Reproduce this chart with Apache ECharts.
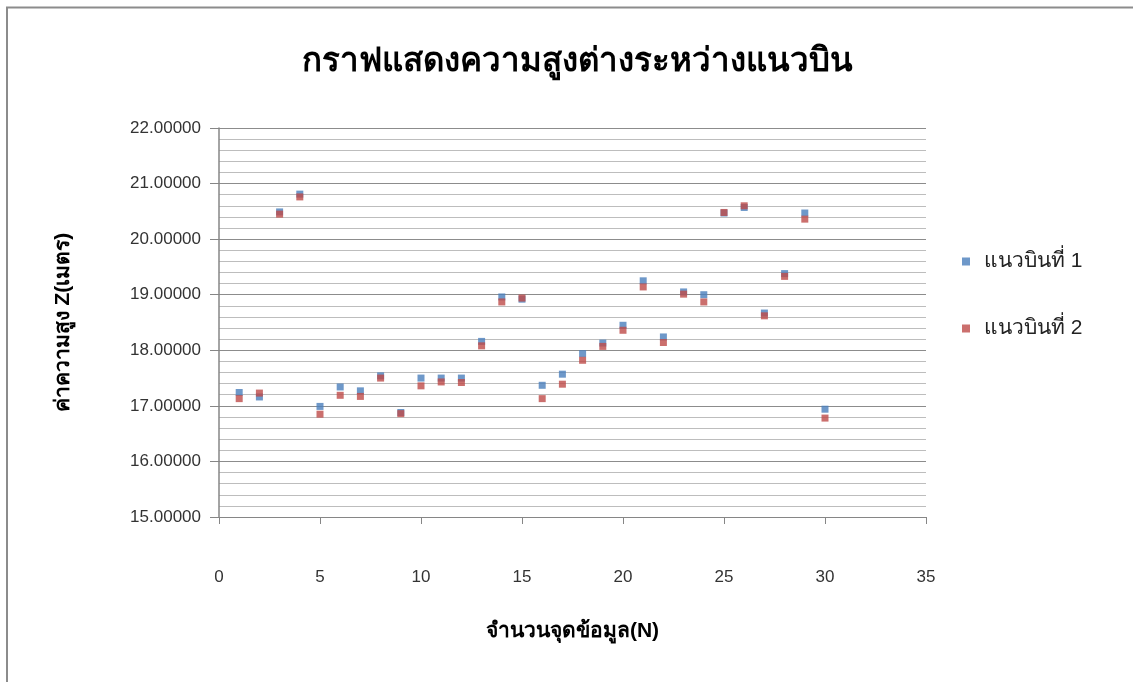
<!DOCTYPE html>
<html>
<head>
<meta charset="utf-8">
<script src="https://cdn.jsdelivr.net/npm/echarts@6/dist/echarts.min.js"></script>
<style>
  html, body { margin: 0; padding: 0; background: #fff; }
  #chart { width: 1133px; height: 682px; }
</style>
</head>
<body>
<div id="chart"></div>
<script>
// Point index along each flight line
const pointIndex = [1, 2, 3, 4, 5, 6, 7, 8, 9, 10, 11, 12, 13, 14, 15,
                    16, 17, 18, 19, 20, 21, 22, 23, 24, 25, 26, 27, 28, 29, 30];
// Height Z (metres) for flight line 1
const line1Z = [17.24, 17.16, 20.49, 20.81, 16.99, 17.34, 17.27, 17.54, 16.88, 17.50,
                17.50, 17.50, 18.16, 18.96, 18.92, 17.37, 17.57, 17.94, 18.13, 18.45,
                19.25, 18.24, 19.05, 19.00, 20.47, 20.57, 18.67, 19.38, 20.47, 16.94];
// Height Z (metres) for flight line 2
const line2Z = [17.13, 17.23, 20.45, 20.76, 16.85, 17.19, 17.17, 17.50, 16.86, 17.36,
                17.43, 17.42, 18.08, 18.87, 18.94, 17.13, 17.39, 17.82, 18.07, 18.36,
                19.14, 18.14, 19.01, 18.87, 20.48, 20.60, 18.62, 19.33, 20.36, 16.78];
const seriesNames = ['แนวบินที่ 1', 'แนวบินที่ 2'];
const titleText = 'กราฟแสดงความสูงต่างระหว่างแนวบิน';
const xAxisName = 'จำนวนจุดข้อมูล(N)';
const yAxisName = 'ค่าความสูง Z(เมตร)';

const pairs = (ys) => pointIndex.map((x, i) => [x, ys[i]]);
const font = '"Liberation Sans", "Noto Sans", sans-serif';

const chart = echarts.init(document.getElementById('chart'), null, { renderer: 'canvas' });
chart.setOption({
  animation: false,
  backgroundColor: '#fff',
  title: {
    text: titleText,
    left: 572, top: 40, textAlign: 'center',
    textStyle: { fontFamily: font, fontSize: 33, fontWeight: 'bold', color: '#000' }
  },
  graphic: [{
    // chart-area frame, running off the right and bottom of the page
    type: 'rect', silent: true, z: -1,
    shape: { x: 7, y: 7.5, width: 1140, height: 700 },
    style: { fill: 'none', stroke: '#8c8c8c', lineWidth: 2 }
  }],
  legend: {
    orient: 'vertical', left: 957, top: 246, itemGap: 46,
    itemWidth: 8, itemHeight: 8, icon: 'rect',
    textStyle: { fontFamily: font, fontSize: 21, color: '#222', padding: [0, 0, 0, 9] },
    data: seriesNames
  },
  grid: { left: 219, right: 207, top: 128, bottom: 165 },
  xAxis: {
    type: 'value', min: 0, max: 35, interval: 5,
    name: xAxisName, nameLocation: 'middle', nameGap: 104,
    nameTextStyle: { fontFamily: font, fontSize: 21, fontWeight: 'bold', color: '#000' },
    axisLine: { lineStyle: { color: '#868686', width: 1 } },
    axisTick: { show: true, length: 7, inside: false, lineStyle: { color: '#868686' } },
    axisLabel: { margin: 52, fontFamily: font, fontSize: 17, color: '#333' },
    splitLine: { show: false }
  },
  yAxis: {
    type: 'value', min: 15, max: 22, interval: 1,
    name: yAxisName, nameLocation: 'middle', nameGap: 145, nameRotate: 90,
    nameTextStyle: { fontFamily: font, fontSize: 21, fontWeight: 'bold', color: '#000' },
    axisLine: { show: true, lineStyle: { color: '#868686', width: 1.5 } },
    axisTick: { show: true, length: 9, lineStyle: { color: '#868686' } },
    axisLabel: { margin: 18, fontFamily: font, fontSize: 17, color: '#333',
                 formatter: (v) => v.toFixed(5) },
    splitLine: { show: true, lineStyle: { color: '#8c8c8c', width: 1.2 } },
    minorTick: { show: false, splitNumber: 5 },
    minorSplitLine: { show: true, lineStyle: { color: '#bdbdbd', width: 1.2 } }
  },
  series: [
    {
      name: seriesNames[0], type: 'scatter', symbol: 'rect', symbolSize: 7,
      itemStyle: { color: '#4a7ebb' }, data: pairs(line1Z), z: 2
    },
    {
      name: seriesNames[1], type: 'scatter', symbol: 'rect', symbolSize: 7,
      itemStyle: { color: '#be4b48' }, data: pairs(line2Z), z: 3
    }
  ]
});
</script>
</body>
</html>
